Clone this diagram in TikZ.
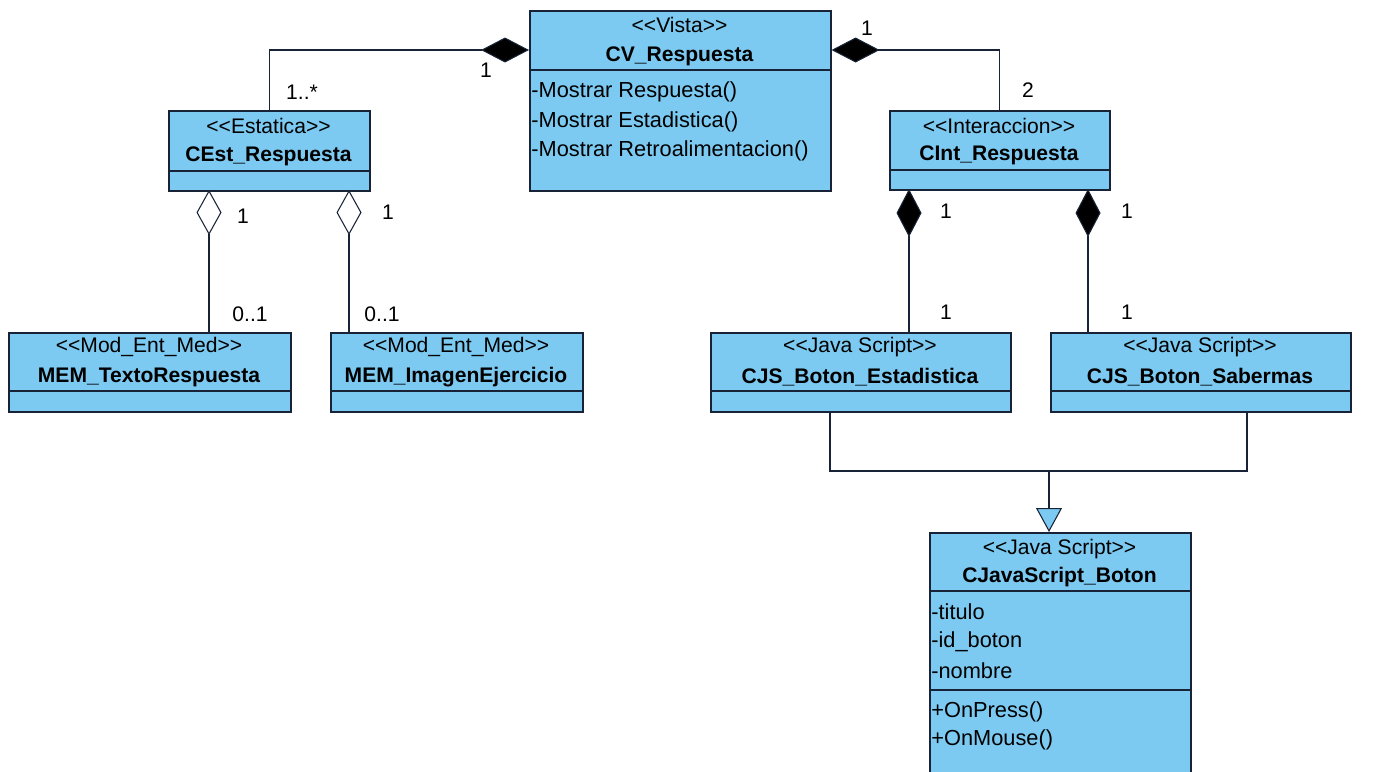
\documentclass[tikz,border=0pt]{standalone}
\usepackage{fontspec}
\setmainfont{Liberation Sans}
\usetikzlibrary{arrows.meta}
\definecolor{umlazul}{RGB}{124,202,241}
\definecolor{umlborde}{RGB}{25,35,55}
\newcommand{\estereo}[1]{<{}<#1>{}>}
\tikzset{
	% cajas de clase
	clase/.style={draw=umlborde,fill=umlazul,line width=0.9pt,anchor=north west,inner sep=0pt},
	caja/.style 2 args={minimum width=#1*0.02cm,minimum height=#2*0.02cm},
	titulo/.style={font=\fontsize{12}{14}\selectfont,inner sep=0pt},
	nombre/.style={font=\fontsize{12}{14}\selectfont\bfseries,inner sep=0pt},
	fila/.style={font=\fontsize{12.4}{14}\selectfont,inner sep=0pt,anchor=west},
	mult/.style={font=\fontsize{12}{14}\selectfont,inner sep=0pt},
	% lineas
	linea/.style={draw=umlborde,line width=0.6pt},
	divisor/.style={draw=umlborde,line width=0.9pt},
	compo/.style={linea,-{Diamond[length=0.96cm,width=0.5cm,fill=black]}},
	agreg/.style={linea,-{Diamond[length=0.9cm,width=0.5cm,fill=white]}},
	gen/.style={linea,-{Triangle[length=0.48cm,width=0.52cm,fill=umlazul]}},
}
\begin{document}
\begin{tikzpicture}[x=0.02cm,y=-0.02cm]
	\useasboundingbox (0,0) rectangle (1378,771);
	\clip (0,0) rectangle (1378,771);
	
	% CV_Respuesta
	\node[clase,caja={301}{180}] (cv) at (529,10) {};
	\draw[divisor] (529,70) -- (830,70);
	\node[titulo] (cv-s) at (679.5,25) {\estereo{Vista}};
	\node[nombre] (cv-n) at (679.5,56) {CV\_Respuesta};
	\node[fila] (cv-o1) at (531,92) {-Mostrar Respuesta()};
	\node[fila] (cv-o2) at (531,122) {-Mostrar Estadistica()};
	\node[fila] (cv-o3) at (531,151) {-Mostrar Retroalimentacion()};
	
	% CEst_Respuesta
	\node[clase,caja={201}{80}] (cest) at (168,110) {};
	\draw[divisor] (168,171) -- (369,171);
	\node[titulo] (cest-s) at (268.5,126) {\estereo{Estatica}};
	\node[nombre] (cest-n) at (268.5,156) {CEst\_Respuesta};
	
	% CInt_Respuesta
	\node[clase,caja={220}{79}] (cint) at (889,110) {};
	\draw[divisor] (889,170) -- (1109,170);
	\node[titulo] (cint-s) at (999,126) {\estereo{Interaccion}};
	\node[nombre] (cint-n) at (999,155) {CInt\_Respuesta};
	
	% MEM_TextoRespuesta
	\node[clase,caja={282}{79}] (memt) at (8,332) {};
	\draw[divisor] (8,391) -- (290,391);
	\node[titulo] (memt-s) at (149,347) {\estereo{Mod\_Ent\_Med}};
	\node[nombre] (memt-n) at (149,377) {MEM\_TextoRespuesta};
	
	% MEM_ImagenEjercicio
	\node[clase,caja={252}{79}] (memi) at (330,332) {};
	\draw[divisor] (330,391) -- (582,391);
	\node[titulo] (memi-s) at (456,347) {\estereo{Mod\_Ent\_Med}};
	\node[nombre] (memi-n) at (456,377) {MEM\_ImagenEjercicio};
	
	% CJS_Boton_Estadistica
	\node[clase,caja={300}{79}] (cjse) at (710,332) {};
	\draw[divisor] (710,391) -- (1010,391);
	\node[titulo] (cjse-s) at (860,347) {\estereo{Java Script}};
	\node[nombre] (cjse-n) at (860,377) {CJS\_Boton\_Estadistica};
	
	% CJS_Boton_Sabermas
	\node[clase,caja={300}{79}] (cjss) at (1050,332) {};
	\draw[divisor] (1050,391) -- (1350,391);
	\node[titulo] (cjss-s) at (1200,347) {\estereo{Java Script}};
	\node[nombre] (cjss-n) at (1200,377) {CJS\_Boton\_Sabermas};
	
	% CJavaScript_Boton
	\node[clase,caja={261}{260}] (cjb) at (929,532) {};
	\draw[divisor] (929,591) -- (1190,591);
	\draw[divisor] (929,690) -- (1190,690);
	\node[titulo] (cjb-s) at (1059.5,549) {\estereo{Java Script}};
	\node[nombre] (cjb-n) at (1059.5,577) {CJavaScript\_Boton};
	\node[fila] (cjb-a1) at (931,612) {-titulo};
	\node[fila] (cjb-a2) at (931,642) {-id\_boton};
	\node[fila] (cjb-a3) at (931,671) {-nombre};
	\node[fila] (cjb-o1) at (931,712) {+OnPress()};
	\node[fila] (cjb-o2) at (931,740) {+OnMouse()};
	
	% composiciones con CV_Respuesta
	\draw[compo] (cest.north) |- ([shift={(0,40)}]cv.north west);
	\draw[compo] (cint.north) |- ([shift={(0,40)}]cv.north east);
	\node[mult] (m1) at (486,70) {1};
	\node[mult] (m2) at (302,92) {1..*};
	\node[mult] (m3) at (867,28) {1};
	\node[mult] (m4) at (1028,90) {2};
	
	% agregaciones
	\coordinate (a1) at (209,190);
	\coordinate (a2) at (349,190);
	\draw[agreg] (memt.north -| a1) -- (a1);
	\draw[agreg] (memi.north -| a2) -- (a2);
	\node[mult] (m5) at (243,216) {1};
	\node[mult] (m6) at (388,212) {1};
	\node[mult] (m7) at (250,314) {0..1};
	\node[mult] (m8) at (382,314) {0..1};
	
	% composiciones con CInt_Respuesta
	\coordinate (c1) at (909,189);
	\coordinate (c2) at (1088,189);
	\draw[compo] (cjse.north -| c1) -- (c1);
	\draw[compo] (cjss.north -| c2) -- (c2);
	\node[mult] (m9) at (946,211) {1};
	\node[mult] (m10) at (1127,211) {1};
	\node[mult] (m11) at (946,312) {1};
	\node[mult] (m12) at (1127,312) {1};
	
	% herencia
	\coordinate (g1) at (830,411);
	\coordinate (g2) at (1247,411);
	\coordinate (gj) at (1049,471);
	\draw[linea] (cjse.south -| g1) |- (gj) -| (cjss.south -| g2);
	\draw[gen] (gj) -- (cjb.north -| gj);
	
\end{tikzpicture}
\end{document}
